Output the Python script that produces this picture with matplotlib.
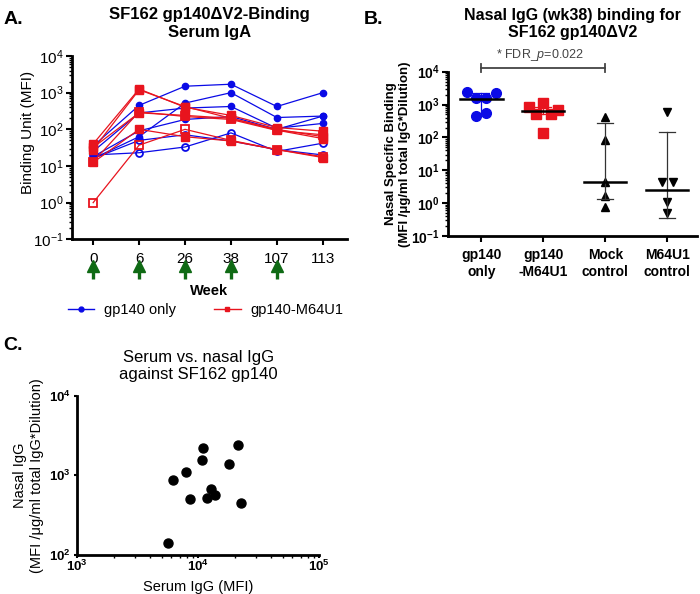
import matplotlib
matplotlib.use('Agg')
import matplotlib.pyplot as plt
import numpy as np
from matplotlib.lines import Line2D
from matplotlib.ticker import FixedLocator, LogLocator, NullFormatter, FuncFormatter

plt.rcParams['font.family'] = ['Liberation Sans', 'DejaVu Sans']
plt.rcParams['mathtext.fontset'] = 'custom'
plt.rcParams['mathtext.rm'] = 'Liberation Sans'
plt.rcParams['mathtext.it'] = 'Liberation Sans:italic'
plt.rcParams['mathtext.bf'] = 'Liberation Sans:bold'

# ---- panel A data (MFI per animal, weeks 0..113)
weeks = ['0', '6', '26', '38', '107', '113']
vacc_weeks = [0, 1, 2, 3, 4]  # index of weeks with immunisation arrows
gp140_filled = [
    [35, 450, 1500, 1700, 420, 1000],
    [16, 63, 520, 1000, 210, 230],
    [25, 280, 380, 420, 107, 145],
    [18, 91, 186, 224, 100, 230],
]
gp140_open = [
    [16, 50, 71, 48, 28, 20],
    [20, 23, 33, 80, 25, 42],
]
m64_filled = [
    [40, 1260, 400, 240, 112, 89],
    [28, 1200, 417, 200, 100, 63],
    [32, 282, 240, 200, 95, 56],
    [12.5, 100, 63, 48, 28, 17],
]
m64_open = [
    [13, 300, 224, 186, 93, 71],
    [1.0, 37, 100, 50, 28, 18],
]

# ---- panel B data
groups = ['gp140\nonly', 'gp140\n-M64U1', 'Mock\ncontrol', 'M64U1\ncontrol']
nasal_gp140 = [2450, 1550, 1550, 2300, 460, 540]
nasal_gp140_x = [-0.23, -0.08, 0.08, 0.24, -0.08, 0.08]
nasal_m64 = [850, 1100, 700, 500, 500, 140]
nasal_m64_x = [-0.23, 0.0, 0.24, -0.12, 0.12, 0.0]
nasal_mock = [430, 83, 4.5, 1.7, 0.76]
nasal_mock_x = [0, 0, 0, 0, 0]
nasal_m64ctl = [600, 4.3, 4.3, 1.1, 0.5]
nasal_m64ctl_x = [0, -0.09, 0.09, 0, 0]
centre = [1480, 620, 4.5, 2.6]
err_low = [540, 500, 1.3, 0.36]
err_high = [2300, 850, 270, 150]

# ---- panel C data
serum_igg = [10900, 10800, 6200, 7900, 17800, 21100, 12800, 13700, 11700, 8600, 22500, 5580]
nasal_igg = [2220, 1550, 870, 1090, 1400, 2400, 680, 570, 525, 500, 450, 140]

blue = '#0a0ae6'
red = '#e8141e'
green = '#0f6a14'


def pow_fmt(bold):
    def f(v, pos):
        e = int(round(np.log10(v)))
        if bold:
            return r'$\mathbf{10^{%d}}$' % e
        return r'$\mathrm{10^{%d}}$' % e
    return FuncFormatter(f)


def style_axes(ax):
    for s in ['top', 'right']:
        ax.spines[s].set_visible(False)
    for s in ['left', 'bottom']:
        ax.spines[s].set_linewidth(2)
    ax.tick_params(which='major', width=1.5, length=4, pad=2)
    ax.tick_params(which='minor', width=1, length=2.5)


fig = plt.figure(figsize=(7, 5.94), dpi=100)

# ================= panel A
axA = fig.add_axes([0.1029, 0.5971, 0.3924, 0.3086])
x = np.arange(len(weeks))
for s in gp140_filled:
    axA.plot(x, s, '-o', color=blue, lw=0.9, ms=4.5, mfc=blue, mec=blue)
for s in gp140_open:
    axA.plot(x, s, '-o', color=blue, lw=0.9, ms=5, mfc='none', mec=blue, mew=1.3)
for s in m64_filled:
    axA.plot(x, s, '-s', color=red, lw=0.9, ms=5.5, mfc=red, mec=red)
for s in m64_open:
    axA.plot(x, s, '-s', color=red, lw=0.9, ms=5.5, mfc='none', mec=red, mew=1.3)
axA.set_yscale('log')
axA.set_ylim(0.1, 1e4)
axA.set_xlim(-0.46, 5.52)
axA.set_xticks(x)
axA.set_xticklabels(weeks, fontsize=11)
axA.yaxis.set_major_locator(FixedLocator([0.1, 1, 10, 100, 1000, 10000]))
axA.yaxis.set_major_formatter(pow_fmt(False))
axA.yaxis.set_minor_locator(LogLocator(base=10, subs=np.arange(2, 10)))
axA.yaxis.set_minor_formatter(NullFormatter())
axA.tick_params(axis='y', labelsize=11)
style_axes(axA)
axA.tick_params(axis='x', pad=5)
axA.set_ylabel('Binding Unit (MFI)', fontsize=11)
axA.yaxis.set_label_coords(-0.135, 0.585)
axA.set_xlabel('Week', fontsize=10.5, fontweight='bold', labelpad=13)
axA.set_title('SF162 gp140\u0394V2-Binding\nSerum IgA', fontsize=12,
              fontweight='bold', pad=14)
xt = axA.get_xaxis_transform()
for i in vacc_weeks:
    axA.plot([i, i], [-0.175, -0.215], transform=xt, color=green, lw=2.4,
             clip_on=False, solid_capstyle='butt')
    axA.plot([i], [-0.148], transform=xt, marker='^', ms=9, color=green,
             ls='none', clip_on=False)
handles = [Line2D([], [], color=blue, marker='o', ms=3.5, lw=1),
           Line2D([], [], color=red, marker='s', ms=3.5, lw=1)]
fig.legend(handles, ['gp140 only', 'gp140-M64U1'], loc='center',
           bbox_to_anchor=(0.294, 0.478), ncol=2, frameon=False, fontsize=10.5,
           handlelength=1.8, handletextpad=0.7, columnspacing=2.6)
fig.text(0.005, 0.96, 'A.', fontsize=14, fontweight='bold')

# ================= panel B
axB = fig.add_axes([0.64, 0.6027, 0.3557, 0.2766])
axB.plot(nasal_gp140_x, nasal_gp140, 'o', color=blue, ms=7, ls='none')
axB.plot(np.array(nasal_m64_x) + 1, nasal_m64, 's', color=red, ms=6.5, ls='none')
axB.plot(np.array(nasal_mock_x) + 2, nasal_mock, '^', color='black', ms=6, ls='none')
axB.plot(np.array(nasal_m64ctl_x) + 3, nasal_m64ctl, 'v', color='black', ms=6, ls='none')
bar_cols = [blue, red, '#333333', '#333333']
for i in range(4):
    axB.plot([i, i], [err_low[i], err_high[i]], color=bar_cols[i], lw=0.9)
    axB.plot([i - 0.13, i + 0.13], [err_low[i]] * 2, color=bar_cols[i], lw=0.9)
    axB.plot([i - 0.13, i + 0.13], [err_high[i]] * 2, color=bar_cols[i], lw=0.9)
    axB.plot([i - 0.34, i + 0.34], [centre[i]] * 2, color='black', lw=1.8)
axB.set_yscale('log')
axB.set_ylim(0.1, 1e4)
axB.set_xlim(-0.54, 3.48)
axB.set_xticks(range(4))
axB.set_xticklabels(groups, fontsize=10, fontweight='bold')
axB.yaxis.set_major_locator(FixedLocator([0.1, 1, 10, 100, 1000, 10000]))
axB.yaxis.set_major_formatter(pow_fmt(True))
axB.yaxis.set_minor_locator(LogLocator(base=10, subs=np.arange(2, 10)))
axB.yaxis.set_minor_formatter(NullFormatter())
axB.tick_params(axis='y', labelsize=10)
style_axes(axB)
axB.tick_params(axis='x', pad=5)
axB.set_ylabel('Nasal Specific Binding\n(MFI /\u03bcg/ml total IgG*Dilution)',
               fontsize=9.5, fontweight='bold', labelpad=0)
axB.set_title('Nasal IgG (wk38) binding for\nSF162 gp140\u0394V2', fontsize=11.5,
              fontweight='bold', pad=25)
xtB = axB.get_xaxis_transform()
yb = 1.023
axB.plot([0, 2], [yb, yb], transform=xtB, color='#444444', lw=1.3, clip_on=False)
for xe in [0, 2]:
    axB.plot([xe, xe], [yb - 0.025, yb + 0.025], transform=xtB,
             color='#444444', lw=1.3, clip_on=False)
axB.text(0.95, yb + 0.03, r'* FDR_$\mathit{p}$=0.022', transform=xtB,
         ha='center', va='bottom', fontsize=9, color='#444444')
fig.text(0.52, 0.96, 'B.', fontsize=14, fontweight='bold')

# ================= panel C
axC = fig.add_axes([0.1104, 0.066, 0.3457, 0.2674])
axC.plot(serum_igg, nasal_igg, 'o', color='black', ms=6.5, ls='none')
axC.set_xscale('log')
axC.set_yscale('log')
axC.set_xlim(1e3, 1e5)
axC.set_ylim(1e2, 1e4)
axC.xaxis.set_major_locator(FixedLocator([1e3, 1e4, 1e5]))
axC.yaxis.set_major_locator(FixedLocator([1e2, 1e3, 1e4]))
axC.xaxis.set_major_formatter(pow_fmt(True))
axC.yaxis.set_major_formatter(pow_fmt(True))
axC.xaxis.set_minor_locator(LogLocator(base=10, subs=np.arange(2, 10)))
axC.xaxis.set_minor_formatter(NullFormatter())
axC.yaxis.set_minor_locator(FixedLocator([]))
axC.tick_params(labelsize=9.5)
style_axes(axC)
axC.tick_params(which='major', length=2.5)
axC.tick_params(axis='x', pad=0.5)
axC.set_xlabel('Serum IgG (MFI)', fontsize=10.5)
axC.xaxis.set_label_coords(0.5, -0.16)
axC.set_ylabel('Nasal IgG\n(MFI /\u03bcg/ml total IgG*Dilution)', fontsize=10.5,
               labelpad=4)
axC.set_title('Serum vs. nasal IgG\nagainst SF162 gp140', fontsize=12, pad=12)
fig.text(0.005, 0.41, 'C.', fontsize=14, fontweight='bold')

fig.savefig('out.png', dpi=100)
